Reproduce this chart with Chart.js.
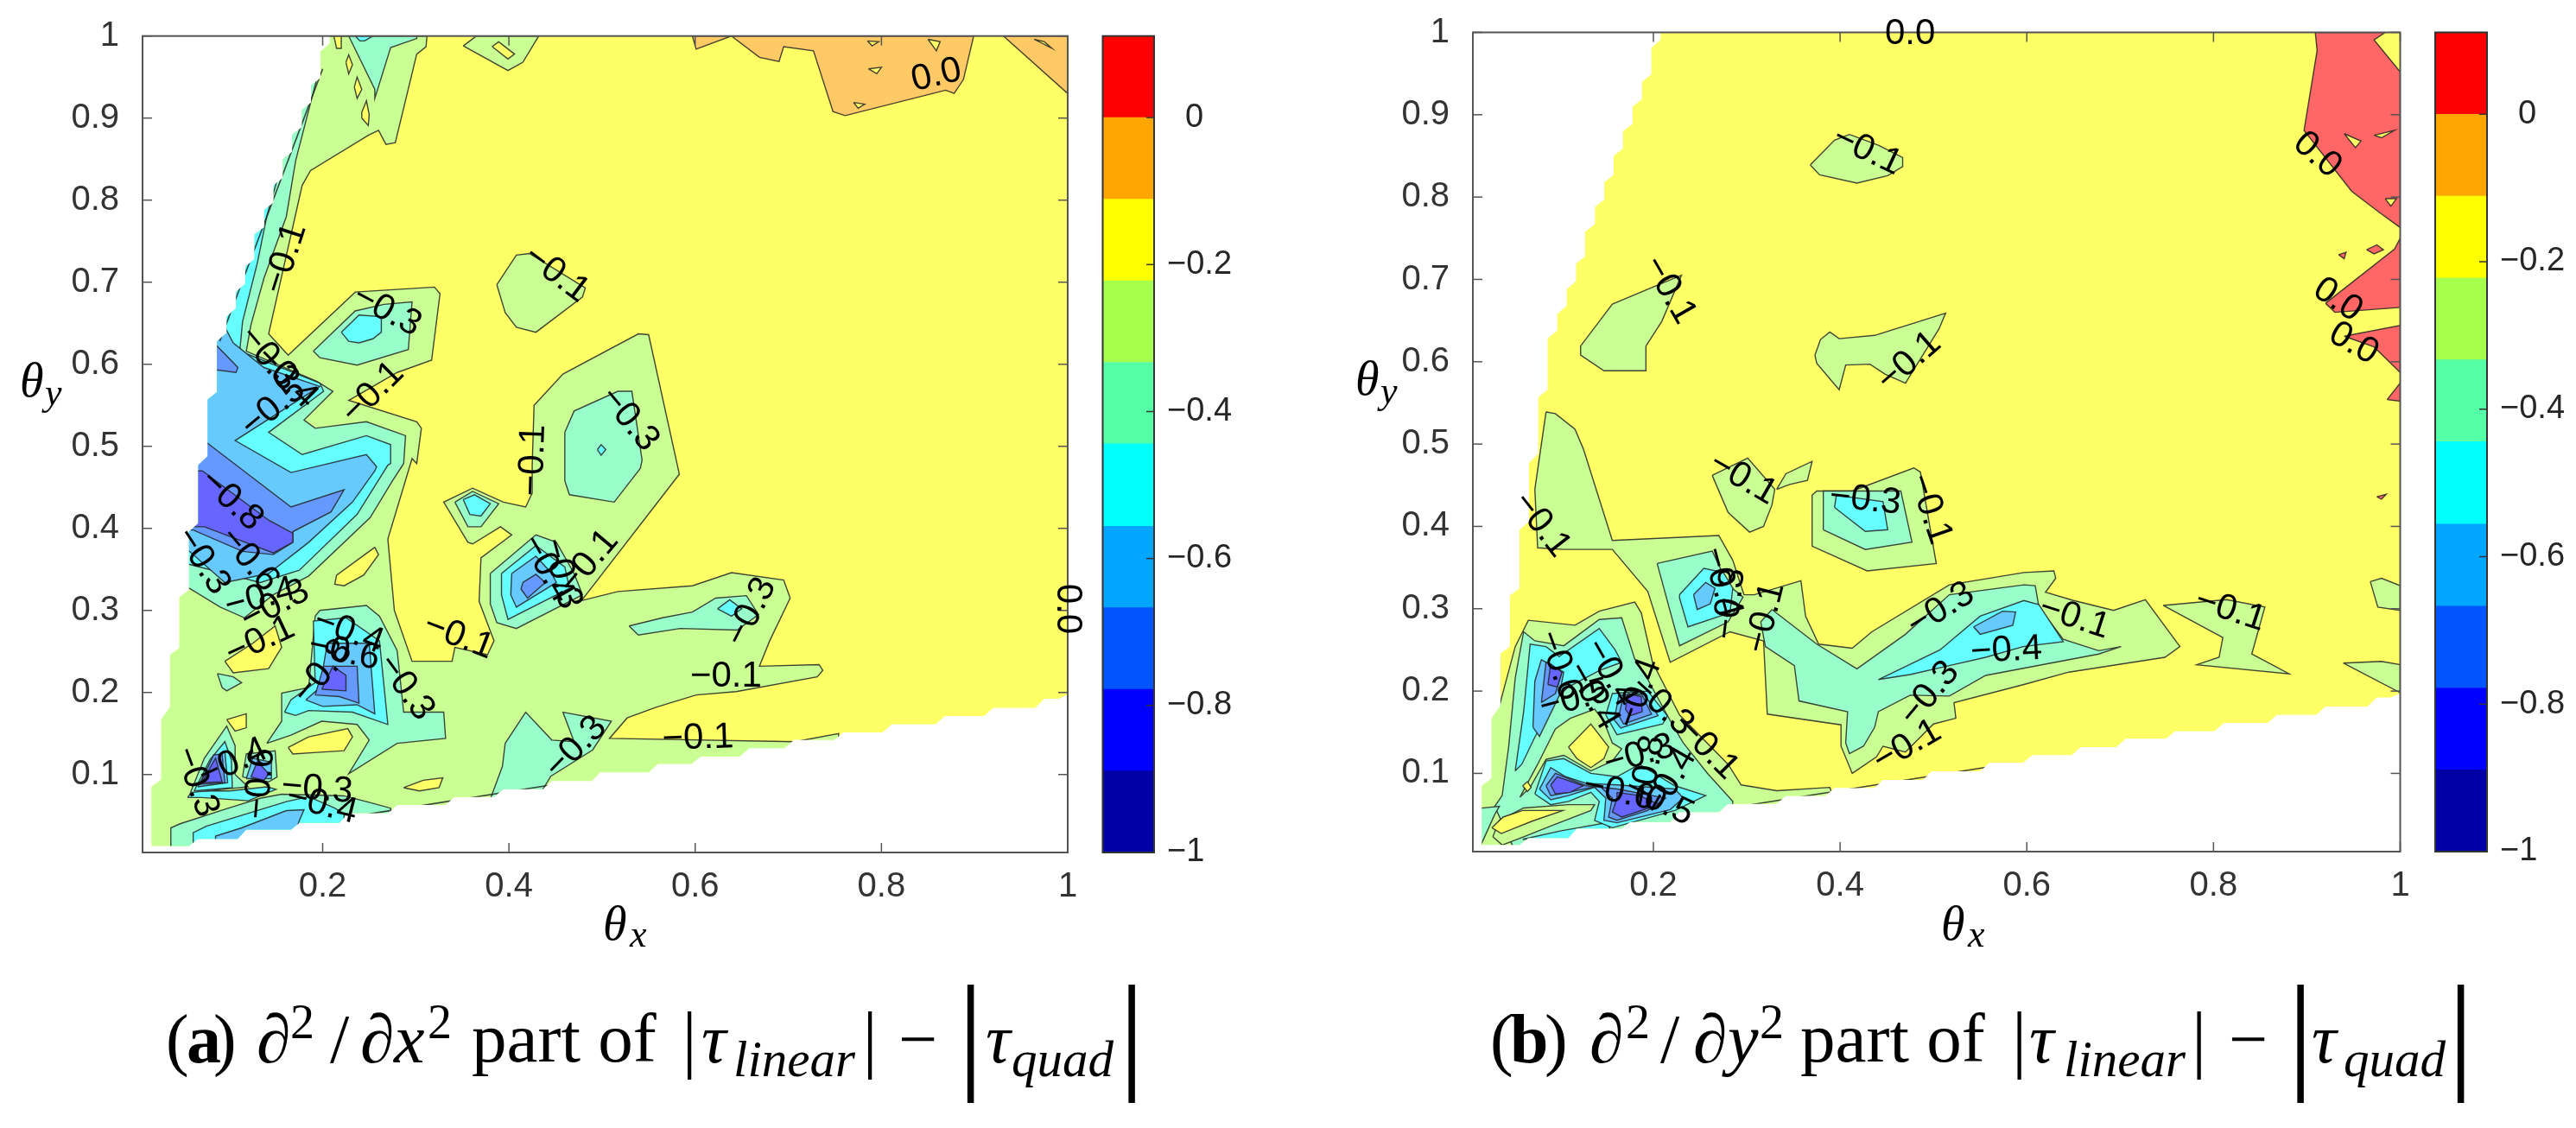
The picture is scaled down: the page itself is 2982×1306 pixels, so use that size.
<!DOCTYPE html>
<html>
<head>
<meta charset="utf-8">
<title>Contours</title>
<script src="https://cdn.jsdelivr.net/npm/chart.js@4"></script>
<style>
  html, body { margin: 0; background: #fff; }
  #page { position: relative; width: 2982px; height: 1306px; overflow: hidden; background: #fff; }
  canvas { position: absolute; }
  #page span { position: absolute; line-height: 1; white-space: pre; color: #000; font-family: "Liberation Serif", serif; }
</style>
</head>
<body>
<div id="page">
  <canvas id="chartA" width="1270" height="1090" style="left:0;top:0"></canvas>
  <canvas id="barA" width="170" height="1040" style="left:1270px;top:0"></canvas>
  <canvas id="chartB" width="1260" height="1090" style="left:1540px;top:0"></canvas>
  <canvas id="barB" width="170" height="1040" style="left:2812px;top:0"></canvas>
</div>
<script>
// ============= Axes =============
const xTicks = [0.2, 0.4, 0.6, 0.8, 1];
const yTicks = [0.1, 0.2, 0.3, 0.4, 0.5, 0.6, 0.7, 0.8, 0.9, 1];
const barTicks = [-1, -0.8, -0.6, -0.4, -0.2, 0];
const bandEdges = [-1, -0.889, -0.778, -0.667, -0.556, -0.444, -0.333, -0.222, -0.111, 0, 0.111];

// colours, lowest band first
const barColors = ["#0000a6", "#0000ff", "#0055ff", "#00a6ff", "#00ffff", "#55ffa6", "#a6ff4d", "#ffff00", "#ffa600", "#ff0000"];
const faceColors = ["#6666ca", "#6666ff", "#6699ff", "#66caff", "#66ffff", "#99ffca", "#caff94", "#ffff66", "#ffca66", "#ff6666"];
const NAVY = 0, DEEP = 1, BLUE = 2, SKY = 3, CYAN = 4, MINT = 5, GREEN = 6, YELLOW = 7, ORANGE = 8, RED = 9;

// ============= Domain (staircase edge of the sampled grid) =============
const domainX = [0.2076, 0.2076, 0.1976, 0.1976, 0.1876, 0.1876, 0.1777, 0.1777, 0.1672, 0.1672, 0.1572, 0.1572, 0.1473, 0.1473, 0.1373, 0.1373, 0.1268, 0.1268, 0.1169, 0.1169, 0.1069, 0.1069, 0.0969, 0.0969, 0.0865, 0.0865, 0.0765, 0.0765, 0.0665, 0.0665, 0.0565, 0.0565, 0.0461, 0.0461, 0.0361, 0.0361, 0.0266, 0.0266, 0.0162, 0.0162,
  0.0565, 0.066, 0.1088, 0.118, 0.166, 0.175, 0.218, 0.2276, 0.27, 0.28, 0.332, 0.3416, 0.384, 0.394, 0.4366, 0.446, 0.489, 0.498, 0.55, 0.56, 0.596, 0.606, 0.648, 0.658, 0.696, 0.706, 0.749, 0.759, 0.801, 0.811, 0.858, 0.868, 0.91, 0.92, 0.965, 0.975, 0.99, 1, 1];
const domainY = [1, 0.991, 0.981, 0.949, 0.94, 0.919, 0.91, 0.889, 0.88, 0.859, 0.85, 0.827, 0.818, 0.797, 0.788, 0.767, 0.758, 0.728, 0.719, 0.698, 0.688, 0.668, 0.658, 0.638, 0.628, 0.566, 0.557, 0.488, 0.477, 0.406, 0.396, 0.325, 0.316, 0.254, 0.246, 0.182, 0.167, 0.094, 0.085, 0.013,
  0.013, 0.0215, 0.0215, 0.033, 0.033, 0.041, 0.041, 0.053, 0.053, 0.063, 0.063, 0.0726, 0.0726, 0.082, 0.082, 0.092, 0.092, 0.1026, 0.1026, 0.1128, 0.1128, 0.122, 0.122, 0.132, 0.132, 0.142, 0.142, 0.151, 0.151, 0.161, 0.161, 0.171, 0.171, 0.181, 0.181, 0.192, 0.192, 0.197, 1];

// ============= Panel (a) contour regions =============
const aGreenMain = [[0.312,1],[0.311,0.987],[0.301,0.978],[0.278,0.87],[0.268,0.868],[0.26,0.885],[0.249,0.879],[0.187,0.836],[0.178,0.818],[0.142,0.637],[0.163,0.611],[0.235,0.688],[0.32,0.694],[0.326,0.686],[0.317,0.605],[0.28,0.59],[0.228,0.556],[0.301,0.53],[0.306,0.522],[0.301,0.479],[0.296,0.485],[0.27,0.387],[0.277,0.3],[0.296,0.238],[0.339,0.238],[0.342,0.255],[0.377,0.246],[0.384,0.263],[0.368,0.311],[0.37,0.364],[0.403,0.392],[0.391,0.402],[0.361,0.381],[0.356,0.383],[0.33,0.432],[0.361,0.449],[0.394,0.432],[0.418,0.426],[0.425,0.443],[0.425,0.477],[0.427,0.55],[0.458,0.588],[0.539,0.637],[0.55,0.636],[0.583,0.466],[0.478,0.312],[0.517,0.323],[0.597,0.33],[0.639,0.346],[0.695,0.337],[0.702,0.315],[0.68,0.263],[0.669,0.232],[0.733,0.234],[0.737,0.227],[0.731,0.219],[0.644,0.201],[0.601,0.197],[0.558,0.182],[0.527,0.169],[0.508,0.144],[0.707,0.14],[0.754,0.15],[0.754,0.1],[0,0],[0,1]];
const aGreenTop = [[0.351,0.988],[0.365,1],[0.432,1],[0.415,0.968],[0.399,0.958]];
const aGreenIsland = [[0.387,0.697],[0.408,0.733],[0.422,0.735],[0.482,0.693],[0.479,0.682],[0.429,0.639],[0.408,0.645],[0.396,0.663]];
const aYellowTop = [[0.382,0.987],[0.389,0.993],[0.406,0.978],[0.399,0.972]];
const aYellowSpeck1 = [[0.212,1],[0.22,1],[0.22,0.985],[0.215,0.985]];
const aYellowSpeck2 = [[0.225,0.968],[0.228,0.977],[0.232,0.965],[0.228,0.954]];
const aYellowSpeck3 = [[0.234,0.938],[0.237,0.95],[0.242,0.935],[0.237,0.924]];
const aYellowSpeck4 = [[0.242,0.907],[0.247,0.921],[0.25,0.904],[0.249,0.891],[0.242,0.9]];
const aYellow1 = [[0.256,0.377],[0.26,0.368],[0.244,0.343],[0.223,0.33],[0.213,0.332],[0.215,0.343]];
const aYellow2 = [[0.095,0.238],[0.125,0.26],[0.149,0.281],[0.156,0.255],[0.142,0.229],[0.104,0.224]];
const aYellow3 = [[0.097,0.167],[0.118,0.174],[0.118,0.157],[0.106,0.153]];
const aYellow4 = [[0.163,0.133],[0.185,0.146],[0.227,0.156],[0.232,0.146],[0.223,0.129],[0.194,0.127],[0.168,0.125]];
const aYellow5 = [[0.287,0.084],[0.308,0.093],[0.329,0.096],[0.325,0.084],[0.304,0.08]];
const aMintTop = [[0.228,1],[0.256,0.935],[0.256,0.924],[0.273,0.986],[0.301,0.997],[0.301,1]];
const aCyanTop = [[0.235,1],[0.254,1],[0.245,0.994],[0.24,0.994]];
const aOrange1 = [[0.639,1],[0.669,0.974],[0.69,0.969],[0.695,0.987],[0.727,0.982],[0.748,0.908],[0.761,0.903],[0.869,0.934],[0.878,0.93],[0.888,0.947],[0.899,1]];
const aOrange2 = [[0.597,1],[0.601,0.984],[0.639,1]];
const aOrange3 = [[0.931,1],[1,0.93],[1,1]];
const aHole1 = [[0.786,0.96],[0.8,0.962],[0.795,0.954]];
const aHole2 = [[0.85,0.996],[0.863,0.993],[0.859,0.982]];
const aHole3 = [[0.785,0.994],[0.797,0.993],[0.79,0.988]];
const aHole4 = [[0.77,0.919],[0.782,0.917],[0.775,0.912]];
const aHole5 = [[0.964,0.996],[0.983,0.985],[0.975,0.993]];
const aMintBig = [[0.194,0.949],[0.171,0.848],[0.161,0.78],[0.137,0.705],[0.123,0.648],[0.118,0.616],[0.194,0.579],[0.211,0.567],[0.18,0.532],[0.192,0.522],[0.247,0.53],[0.289,0.513],[0.287,0.479],[0.275,0.458],[0.251,0.413],[0.185,0.342],[0.147,0.319],[0.116,0.291],[0.09,0.304],[0.057,0.327],[0,0.327],[0,0.949]];
const aCyanBig = [[0.156,0.844],[0.14,0.78],[0.13,0.724],[0.114,0.652],[0.111,0.616],[0.197,0.577],[0.201,0.567],[0.142,0.517],[0.178,0.49],[0.247,0.513],[0.273,0.502],[0.273,0.479],[0.27,0.477],[0.237,0.417],[0.175,0.349],[0.133,0.334],[0.057,0.356],[0,0.356],[0,0.844]];
const aSkyBig = [[0.092,0.652],[0.104,0.626],[0.137,0.596],[0.197,0.573],[0.106,0.507],[0.166,0.468],[0.247,0.49],[0.258,0.475],[0.256,0.47],[0.232,0.432],[0.185,0.383],[0.142,0.345],[0.095,0.334],[0.057,0.372],[0,0.372],[0,0.652]];
const aBlueTip = [[0.08,0.63],[0.109,0.596],[0.107,0.59],[0.08,0.594]];
const aBlueBig = [[0.075,0.505],[0.166,0.426],[0.223,0.447],[0.209,0.42],[0.168,0.396],[0.168,0.383],[0.147,0.368],[0.114,0.372],[0.061,0.398],[0,0.398],[0,0.505]];
const aDeepBig = [[0.071,0.47],[0.142,0.41],[0.168,0.394],[0.168,0.383],[0.147,0.37],[0.073,0.402],[0,0.402],[0,0.47]];
const aMintLump = [[0.19,0.616],[0.235,0.665],[0.266,0.673],[0.296,0.676],[0.292,0.618],[0.237,0.599],[0.197,0.608]];
const aCyanLump = [[0.22,0.639],[0.239,0.66],[0.263,0.658],[0.263,0.639],[0.254,0.631],[0.239,0.626],[0.228,0.628]];
const aMintRight = [[0.46,0.517],[0.47,0.543],[0.517,0.567],[0.532,0.567],[0.543,0.483],[0.541,0.473],[0.513,0.432],[0.465,0.441],[0.46,0.458]];
const aCyanDiamond = [[0.495,0.496],[0.499,0.502],[0.504,0.496],[0.499,0.489]];
const aMintSmall = [[0.342,0.432],[0.361,0.445],[0.389,0.43],[0.37,0.402],[0.356,0.402]];
const aCyanSmall = [[0.351,0.435],[0.363,0.441],[0.38,0.43],[0.37,0.415],[0.358,0.417]];
const aMintPeak = [[0.38,0.345],[0.429,0.392],[0.451,0.383],[0.47,0.345],[0.479,0.319],[0.408,0.278],[0.387,0.285],[0.38,0.308]];
const aCyanPeak = [[0.392,0.345],[0.429,0.379],[0.46,0.353],[0.465,0.327],[0.399,0.289],[0.392,0.319]];
const aSkyPeak = [[0.403,0.345],[0.429,0.366],[0.446,0.345],[0.451,0.334],[0.408,0.304],[0.402,0.319]];
const aBluePeak = [[0.415,0.334],[0.429,0.344],[0.439,0.334],[0.42,0.315],[0.413,0.326]];
const aMintStreak = [[0.529,0.281],[0.565,0.291],[0.597,0.298],[0.622,0.315],[0.655,0.318],[0.668,0.295],[0.645,0.276],[0.584,0.278],[0.539,0.27]];
const aCyanStreak = [[0.624,0.302],[0.637,0.313],[0.65,0.302],[0.639,0.293]];
const aMintMid = [[0.14,0.138],[0.156,0.165],[0.156,0.199],[0.185,0.206],[0.192,0.293],[0.197,0.3],[0.247,0.306],[0.261,0.293],[0.28,0.251],[0.287,0.176],[0.33,0.176],[0.332,0.144],[0.28,0.138],[0.228,0.101],[0.25,0.142],[0.237,0.161],[0.199,0.165],[0.166,0.148]];
const aCyanMid = [[0.159,0.176],[0.166,0.191],[0.192,0.212],[0.19,0.287],[0.225,0.291],[0.261,0.263],[0.27,0.161],[0.232,0.176],[0.185,0.178],[0.171,0.172]];
const aSkyMid = [[0.182,0.191],[0.197,0.206],[0.205,0.26],[0.25,0.26],[0.256,0.174],[0.237,0.185],[0.2,0.183]];
const aBlueMid = [[0.192,0.197],[0.201,0.232],[0.237,0.232],[0.239,0.187],[0.218,0.195]];
const aDeepMid = [[0.199,0.204],[0.211,0.232],[0.225,0.221],[0.225,0.202]];
const aMintFleck = [[0.087,0.223],[0.104,0.219],[0.113,0.212],[0.097,0.202],[0.092,0.206]];
const aMintBottom = [[0.396,0.138],[0.418,0.176],[0.446,0.142],[0.47,0.14],[0.458,0.176],[0.51,0.165],[0.49,0.13],[0.445,0.098],[0.43,0.07],[0.38,0.07],[0.393,0.11]];
const aSpikeMint = [[0.058,0.078],[0.073,0.12],[0.097,0.159],[0.106,0.135],[0.106,0.1],[0.12,0.085]];
const aSpikeCyan = [[0.062,0.08],[0.079,0.118],[0.095,0.14],[0.102,0.118],[0.103,0.084]];
const aSpikeSky = [[0.066,0.085],[0.083,0.12],[0.095,0.128],[0.098,0.09]];
const aSpikeBlue = [[0.068,0.088],[0.083,0.124],[0.092,0.125],[0.095,0.09]];
const aSpikeDeep = [[0.07,0.09],[0.085,0.12],[0.09,0.1],[0.092,0.091]];
const aSpike2Mint = [[0.114,0.097],[0.118,0.125],[0.149,0.129],[0.151,0.097],[0.142,0.091]];
const aSpike2Sky = [[0.118,0.095],[0.125,0.12],[0.145,0.115],[0.145,0.095]];
const aSpike2Deep = [[0.123,0.097],[0.13,0.116],[0.142,0.101],[0.137,0.093]];
const aBottomMint = [[0.037,0],[0.037,0.035],[0.047,0.04],[0.099,0.059],[0.133,0.071],[0.156,0.076],[0.223,0.074],[0.247,0.067],[0.273,0.059],[0.273,0]];
const aBottomStrip = [[0.055,0.072],[0.06,0.08],[0.1,0.08],[0.14,0.085],[0.15,0.082],[0.12,0.068],[0.07,0.072]];
const aBottomCyan = [[0.061,0],[0.061,0.029],[0.075,0.037],[0.161,0.067],[0.185,0.073],[0.213,0.059],[0.223,0.052],[0.223,0]];
const aBottomSky = [[0.085,0],[0.085,0.025],[0.113,0.035],[0.161,0.056],[0.18,0.057],[0.175,0.044],[0.161,0]];
// contour runs that graze the staircase, so only pieces of them show
const aEdgeLeft = [[0.2,0.96],[0.0895,0.628]];
const aEdgeBottom = [[0.25,0.052],[0.45,0.0882]];

const regionsA = [
  [GREEN, aGreenMain], [GREEN, aGreenTop], [GREEN, aGreenIsland], [YELLOW, aYellowTop], [YELLOW, aYellowSpeck1], [YELLOW, aYellowSpeck2], [YELLOW, aYellowSpeck3], [YELLOW, aYellowSpeck4],
  [YELLOW, aYellow1], [YELLOW, aYellow2], [YELLOW, aYellow3], [YELLOW, aYellow4], [YELLOW, aYellow5],
  [MINT, aMintTop], [CYAN, aCyanTop], [ORANGE, aOrange1], [ORANGE, aOrange2], [ORANGE, aOrange3],
  [YELLOW, aHole1], [YELLOW, aHole2], [YELLOW, aHole3], [YELLOW, aHole4], [YELLOW, aHole5],
  [MINT, aMintBig], [CYAN, aCyanBig], [SKY, aSkyBig], [BLUE, aBlueTip], [BLUE, aBlueBig], [DEEP, aDeepBig],
  [MINT, aMintLump], [CYAN, aCyanLump], [MINT, aMintRight], [CYAN, aCyanDiamond], [MINT, aMintSmall], [CYAN, aCyanSmall],
  [MINT, aMintPeak], [CYAN, aCyanPeak], [SKY, aSkyPeak], [BLUE, aBluePeak], [MINT, aMintStreak], [CYAN, aCyanStreak],
  [MINT, aMintMid], [CYAN, aCyanMid], [SKY, aSkyMid], [BLUE, aBlueMid], [DEEP, aDeepMid], [MINT, aMintFleck], [MINT, aMintBottom],
  [MINT, aBottomMint], [CYAN, aBottomStrip], [CYAN, aBottomCyan], [SKY, aBottomSky],
  [MINT, aSpikeMint], [CYAN, aSpikeCyan], [SKY, aSpikeSky], [BLUE, aSpikeBlue], [DEEP, aSpikeDeep],
  [MINT, aSpike2Mint], [SKY, aSpike2Sky], [DEEP, aSpike2Deep],
];
const edgesA = [aEdgeLeft, aEdgeBottom];

// x, y, text, angle in degrees
const labelsA = [
  [0.16, 0.729, "−0.1", -72], [0.451, 0.71, "−0.1", 37], [0.269, 0.665, "−0.3", 28], [0.254, 0.565, "−0.1", -45],
  [0.529, 0.533, "−0.3", 50], [0.426, 0.483, "−0.1", -88], [0.142, 0.607, "−0.3", 50], [0.161, 0.584, "−0.4", 45],
  [0.147, 0.547, "−0.5", -40], [0.102, 0.434, "−0.8", 43], [0.071, 0.36, "−0.3", 57], [0.121, 0.362, "−0.6", 50],
  [0.133, 0.315, "−0.4", -15], [0.149, 0.306, "−0.3", -28], [0.133, 0.263, "−0.1", -25], [0.346, 0.268, "−0.1", 21],
  [0.486, 0.359, "−0.1", -50], [0.441, 0.351, "−0.4", 60], [0.456, 0.345, "−0.3", 75], [0.472, 0.133, "−0.3", -46],
  [0.633, 0.219, "−0.1", 0], [0.603, 0.144, "−0.1", -2], [0.66, 0.298, "−0.3", -63], [0.859, 0.952, "0.0", -13],
  [1, 0.302, "0.0", 90], [0.064, 0.091, "−0.3", 70], [0.104, 0.114, "−0.4", -25], [0.133, 0.089, "−0.6", -85],
  [0.194, 0.082, "−0.3", 5], [0.199, 0.063, "−0.4", 14], [0.228, 0.274, "−0.4", 20], [0.223, 0.249, "−0.6", 12],
  [0.2, 0.225, "−0.8", -50], [0.289, 0.206, "−0.3", 54],
];

// ============= Panel (b) contour regions =============
const bGreen1 = [[0.368,0.839],[0.394,0.869],[0.41,0.876],[0.441,0.863],[0.467,0.848],[0.467,0.837],[0.451,0.826],[0.418,0.817],[0.378,0.827]];
const bGreen2 = [[0.156,0.67],[0.194,0.688],[0.23,0.705],[0.209,0.649],[0.192,0.619],[0.192,0.589],[0.147,0.589],[0.122,0.608],[0.122,0.619]];
const bGreen3 = [[0.373,0.608],[0.379,0.627],[0.389,0.636],[0.399,0.628],[0.437,0.632],[0.513,0.659],[0.506,0.64],[0.47,0.574],[0.448,0.585],[0.432,0.597],[0.406,0.596],[0.399,0.566],[0.375,0.598]];
const bGreenBand = [[0.085,0.539],[0.095,0.537],[0.116,0.518],[0.125,0.494],[0.156,0.383],[0.27,0.389],[0.285,0.359],[0.297,0.317],[0.308,0.317],[0.358,0.334],[0.363,0.291],[0.377,0.257],[0.413,0.252],[0.434,0.272],[0.517,0.329],[0.597,0.344],[0.629,0.346],[0.631,0.337],[0.62,0.32],[0.65,0.31],[0.693,0.298],[0.727,0.311],[0.764,0.254],[0.748,0.241],[0.645,0.223],[0.597,0.208],[0.522,0.186],[0.524,0.167],[0.5,0.16],[0.47,0.126],[0.446,0.133],[0.439,0.12],[0.413,0.1],[0.401,0.133],[0.401,0.159],[0.322,0.172],[0.318,0.261],[0.282,0.272],[0.218,0.235],[0.194,0.321],[0.156,0.372],[0.104,0.372],[0.076,0.374],[0.073,0.445]];
const bGreenLeft = [[0,0.18],[0.035,0.182],[0.052,0.254],[0.066,0.286],[0.116,0.28],[0.142,0.297],[0.18,0.308],[0.187,0.295],[0.199,0.235],[0.228,0.171],[0.28,0.111],[0.294,0.086],[0.332,0.079],[0.389,0.083],[0.4,0.05],[0,0]];
const bGreenRim = [[0.41,0.08],[0.44,0.091],[0.49,0.1],[0.55,0.113],[0.55,0.1],[0.41,0.07]];
const bMintBig = [[0.038,0.073],[0.045,0.133],[0.052,0.216],[0.061,0.272],[0.073,0.261],[0.104,0.255],[0.142,0.287],[0.166,0.289],[0.18,0.239],[0.194,0.214],[0.22,0.16],[0.232,0.137],[0.258,0.1],[0.285,0.066],[0.285,0.04],[0.1,0],[0.05,0.01],[0.03,0.06]];
const bMintCorner = [[0,0.056],[0.035,0.06],[0.03,0.05],[0.016,0.015],[0,0]];
const bGreenHole = [[0.057,0.071],[0.076,0.111],[0.095,0.154],[0.111,0.167],[0.137,0.178],[0.147,0.163],[0.156,0.137],[0.166,0.13],[0.156,0.115],[0.133,0.103],[0.104,0.122],[0.085,0.117],[0.068,0.083]];
const bGreenStreak = [[0.028,0.023],[0.035,0.043],[0.061,0.058],[0.109,0.062],[0.137,0.062],[0.133,0.055],[0.09,0.036],[0.061,0.023],[0.038,0.013]];
const bYellowHole = [[0.109,0.132],[0.133,0.16],[0.152,0.132],[0.147,0.118],[0.133,0.107],[0.118,0.118]];
const bYellowStreak = [[0.027,0.034],[0.039,0.047],[0.06,0.055],[0.103,0.055],[0.07,0.042],[0.037,0.027]];
const bYellowSpeck = [[0.06,0.085],[0.065,0.09],[0.069,0.083],[0.065,0.078]];
const bCyanLeg = [[0.052,0.103],[0.061,0.175],[0.068,0.257],[0.085,0.254],[0.099,0.242],[0.142,0.276],[0.159,0.25],[0.166,0.235],[0.142,0.225],[0.109,0.205],[0.095,0.19],[0.073,0.144],[0.059,0.111]];
const bSkyLeg = [[0.071,0.156],[0.073,0.212],[0.08,0.238],[0.104,0.223],[0.099,0.194],[0.078,0.145]];
const bBlueLeg = [[0.08,0.186],[0.085,0.235],[0.102,0.223],[0.095,0.197]];
const bDeepLeg = [[0.087,0.208],[0.09,0.233],[0.102,0.223],[0.097,0.205]];
const bCyanPeak = [[0.149,0.171],[0.156,0.197],[0.194,0.2],[0.215,0.17],[0.21,0.16],[0.161,0.147]];
const bSkyPeak = [[0.158,0.165],[0.163,0.195],[0.19,0.197],[0.205,0.17],[0.165,0.155]];
const bBluePeak = [[0.163,0.17],[0.168,0.195],[0.188,0.195],[0.198,0.172],[0.168,0.16]];
const bDeepPeak = [[0.17,0.178],[0.173,0.197],[0.187,0.193],[0.188,0.175],[0.175,0.17]];
const bCyanBlob = [[0.073,0.075],[0.085,0.115],[0.104,0.118],[0.133,0.1],[0.161,0.096],[0.185,0.111],[0.223,0.085],[0.256,0.073],[0.223,0.055],[0.156,0.034],[0.137,0.043],[0.142,0.066],[0.133,0.077],[0.109,0.066],[0.09,0.062]];
const bCyanFoot = [[0.06,0.02],[0.1,0.03],[0.15,0.04],[0.16,0.02]];
const bSkyBlob = [[0.078,0.081],[0.09,0.107],[0.106,0.096],[0.128,0.088],[0.161,0.086],[0.223,0.081],[0.232,0.07],[0.218,0.056],[0.161,0.04],[0.147,0.043],[0.149,0.07],[0.137,0.083],[0.109,0.073],[0.09,0.068]];
const bBlueBlob = [[0.085,0.085],[0.095,0.1],[0.128,0.085],[0.161,0.081],[0.213,0.07],[0.194,0.055],[0.161,0.043],[0.152,0.047],[0.156,0.07],[0.142,0.085],[0.109,0.077],[0.09,0.073]];
const bDeepBlob1 = [[0.09,0.086],[0.097,0.096],[0.125,0.085],[0.111,0.077],[0.095,0.075]];
const bDeepBlob2 = [[0.161,0.077],[0.185,0.073],[0.206,0.062],[0.166,0.047],[0.156,0.053],[0.161,0.07]];
const bMintLump = [[0.204,0.355],[0.263,0.37],[0.28,0.329],[0.296,0.314],[0.28,0.284],[0.228,0.255]];
const bCyanLump = [[0.228,0.317],[0.254,0.349],[0.275,0.344],[0.285,0.325],[0.282,0.295],[0.237,0.278],[0.228,0.313]];
const bSkyLump = [[0.243,0.317],[0.256,0.332],[0.266,0.325],[0.261,0.306],[0.247,0.299]];
const bGreen6 = [[0.37,0.378],[0.37,0.438],[0.375,0.443],[0.413,0.443],[0.479,0.471],[0.486,0.466],[0.503,0.355],[0.429,0.346],[0.37,0.376]];
const bMint6 = [[0.382,0.396],[0.382,0.443],[0.465,0.443],[0.477,0.381],[0.427,0.372]];
const bCyan6 = [[0.394,0.423],[0.396,0.438],[0.446,0.43],[0.451,0.396],[0.427,0.394]];
const bGreen7 = [[0.263,0.462],[0.301,0.483],[0.33,0.445],[0.327,0.426],[0.318,0.4],[0.303,0.393],[0.28,0.417]];
const bGreen8 = [[0.332,0.445],[0.342,0.464],[0.37,0.479],[0.365,0.456],[0.346,0.451]];
const bMintRight = [[0.327,0.299],[0.375,0.257],[0.418,0.227],[0.47,0.269],[0.517,0.317],[0.597,0.329],[0.609,0.328],[0.613,0.302],[0.639,0.263],[0.677,0.249],[0.701,0.254],[0.677,0.245],[0.556,0.219],[0.517,0.194],[0.475,0.195],[0.441,0.175],[0.437,0.156],[0.425,0.133],[0.41,0.124],[0.406,0.137],[0.408,0.175],[0.356,0.188],[0.351,0.231],[0.32,0.254],[0.315,0.284]];
const bCyanRight = [[0.441,0.214],[0.507,0.25],[0.55,0.291],[0.597,0.31],[0.613,0.305],[0.639,0.26],[0.596,0.254],[0.556,0.241],[0.517,0.231],[0.475,0.22]];
const bSkyRight = [[0.543,0.278],[0.574,0.297],[0.588,0.296],[0.585,0.28],[0.55,0.269]];
const bGreen9 = [[0.746,0.304],[0.814,0.311],[0.855,0.302],[0.841,0.245],[0.881,0.221],[0.782,0.232],[0.806,0.241],[0.81,0.265]];
const bGreen10 = [[0.968,0.333],[0.98,0.337],[1,0.328],[1,0.298],[0.976,0.302]];
const bGreen11 = [[0.939,0.234],[1,0.198],[1,0.232],[0.98,0.236]];
const bRed1 = [[0.909,1],[0.911,0.978],[0.897,0.881],[0.948,0.807],[0.978,0.781],[1,0.763],[1,0.952],[0.972,0.991],[0.984,1]];
const bRed2 = [[0.92,0.671],[0.994,0.737],[1,0.75],[1,0.666],[0.93,0.66]];
const bRed3 = [[0.94,0.631],[1,0.644],[1,0.587],[0.972,0.618]];
const bRed4 = [[0.986,0.554],[1,0.574],[1,0.552]];
const bRed5 = [[0.934,0.73],[0.942,0.733],[0.94,0.725]];
const bRed6 = [[0.964,0.736],[0.975,0.742],[0.982,0.736],[0.972,0.731]];
const bRed7 = [[0.975,0.436],[0.985,0.439],[0.98,0.433]];
const bHole1 = [[0.94,0.877],[0.958,0.868],[0.952,0.86]];
const bHole2 = [[0.972,0.875],[0.994,0.881],[0.98,0.872]];
const bHole3 = [[0.984,0.798],[0.996,0.798],[0.99,0.789]];
const bEdgeBottom = [[0.3,0.0612],[0.56,0.108]];

const regionsB = [
  [GREEN, bGreen1], [GREEN, bGreen2], [GREEN, bGreen3], [GREEN, bGreenBand], [GREEN, bGreenLeft],
  [MINT, bMintBig], [MINT, bMintCorner], [GREEN, bGreenHole], [GREEN, bGreenStreak], [YELLOW, bYellowHole], [YELLOW, bYellowStreak], [YELLOW, bYellowSpeck],
  [CYAN, bCyanLeg], [SKY, bSkyLeg], [BLUE, bBlueLeg], [DEEP, bDeepLeg],
  [CYAN, bCyanPeak], [SKY, bSkyPeak], [BLUE, bBluePeak], [DEEP, bDeepPeak],
  [CYAN, bCyanFoot], [CYAN, bCyanBlob], [SKY, bSkyBlob], [BLUE, bBlueBlob], [DEEP, bDeepBlob1], [DEEP, bDeepBlob2],
  [MINT, bMintLump], [CYAN, bCyanLump], [SKY, bSkyLump],
  [GREEN, bGreen6], [MINT, bMint6], [CYAN, bCyan6], [GREEN, bGreen7], [GREEN, bGreen8],
  [MINT, bMintRight], [CYAN, bCyanRight], [SKY, bSkyRight],
  [GREEN, bGreen9], [GREEN, bGreen10], [GREEN, bGreen11],
  [RED, bRed1], [RED, bRed2], [RED, bRed3], [RED, bRed4], [RED, bRed5], [RED, bRed6], [RED, bRed7],
  [YELLOW, bHole1], [YELLOW, bHole2], [YELLOW, bHole3],
];
const edgesB = [bEdgeBottom];

const labelsB = [
  [0.475, 0.998, "0.0", 0], [0.429, 0.856, "−0.1", 25], [0.217, 0.687, "−0.1", 60], [0.474, 0.6, "−0.1", -41],
  [0.296, 0.458, "−0.1", 30], [0.08, 0.402, "−0.1", 52], [0.427, 0.432, "−0.3", 6], [0.496, 0.421, "−0.1", 71],
  [0.32, 0.289, "−0.1", -76], [0.282, 0.306, "−0.3", -83], [0.273, 0.332, "−0.4", 75], [0.508, 0.299, "−0.3", -32],
  [0.578, 0.249, "−0.4", -3], [0.496, 0.197, "−0.3", -50], [0.472, 0.133, "−0.1", -30], [0.154, 0.222, "−0.4", 60],
  [0.099, 0.231, "−0.6", 70], [0.116, 0.19, "−0.5", -15], [0.135, 0.194, "−0.4", 60], [0.185, 0.197, "−0.4", -70],
  [0.209, 0.182, "−0.3", 42], [0.258, 0.13, "−0.1", 45], [0.185, 0.122, "−0.3", -16], [0.194, 0.103, "−0.8", -80],
  [0.218, 0.09, "−0.4", -60], [0.163, 0.077, "−0.6", 12], [0.206, 0.066, "−0.5", 25], [0.911, 0.851, "0.0", 41],
  [0.933, 0.675, "0.0", 34], [0.95, 0.622, "0.0", 30], [0.651, 0.289, "−0.1", 18], [0.818, 0.298, "−0.1", 18],
];

// ============= Captions =============
// text, x, baseline, size, style
const captionA = [
  ["(", 192, 1230, 80, ""], ["a", 216, 1230, 80, "bold"], [")", 247, 1230, 80, ""], ["∂", 297, 1230, 80, ""], ["2", 336, 1202, 56, ""],
  ["/", 382, 1230, 80, ""], ["∂", 417, 1230, 80, ""], ["x", 456, 1230, 80, "italic"], ["2", 495, 1202, 56, ""], ["part of", 546, 1230, 81, ""],
  ["τ", 812, 1230, 80, "italic"], ["linear", 849, 1246, 59, "italic"], ["−", 1040, 1230, 80, ""], ["τ", 1141, 1230, 80, "italic"], ["quad", 1171, 1246, 59, "italic"],
];
const captionB = [
  ["(", 1725, 1230, 80, ""], ["b", 1748, 1230, 80, "bold"], [")", 1788, 1230, 80, ""], ["∂", 1840, 1230, 80, ""], ["2", 1882, 1202, 56, ""],
  ["/", 1922, 1230, 80, ""], ["∂", 1960, 1230, 80, ""], ["y", 2000, 1230, 80, "italic"], ["2", 2037, 1202, 56, ""], ["part of", 2084, 1230, 81, ""],
  ["τ", 2349, 1230, 80, "italic"], ["linear", 2389, 1246, 59, "italic"], ["−", 2580, 1230, 80, ""], ["τ", 2676, 1230, 80, "italic"], ["quad", 2713, 1246, 59, "italic"],
];
// x, baseline, size
const pipes = [
  [798, 1231, 86], [1007, 1231, 86], [1123.6, 1245, 151], [1310, 1245, 151],
  [2337.5, 1231, 86], [2545.5, 1231, 86], [2663, 1245, 151], [2848.5, 1245, 151],
];
const axisLabels = [
  ["θ", 698, 1088, 56, "italic"], ["x", 729, 1097, 44, "italic"], ["θ", 23, 459, 56, "italic"], ["y", 52, 470, 44, "italic"],
  ["θ", 2247, 1088, 56, "italic"], ["x", 2278, 1097, 44, "italic"], ["θ", 1569, 457, 56, "italic"], ["y", 1598, 468, 44, "italic"],
];

const page = document.getElementById("page");
function putText([text, x, baseline, size, style]) {
  const s = document.createElement("span");
  s.textContent = text;
  s.style.left = x + "px";
  s.style.top = baseline - 0.8375 * size + "px";
  s.style.fontSize = size + "px";
  if (style === "bold") s.style.fontWeight = "bold";
  if (style === "italic") s.style.fontStyle = "italic";
  page.appendChild(s);
}
[...captionA, ...captionB, ...axisLabels].forEach(putText);
pipes.forEach(([x, baseline, size]) => putText(["|", x - 0.1 * size, baseline, size, ""]));

// ============= Chart helpers =============
const FRAME = "#555";
const LINE = "rgba(35,35,35,0.85)";
const tickFont = { family: "'Liberation Sans'", size: 40 };

function listTicks(values) {
  return (scale) => { scale.ticks = values.map((value) => ({ value })); };
}
function fixedSize(prop, size) {
  return (scale) => {
    scale[prop] = size;
    scale.paddingLeft = scale.paddingRight = scale.paddingTop = scale.paddingBottom = 0;
  };
}
function tickLine(ctx, x1, y1, x2, y2) {
  ctx.beginPath();
  ctx.moveTo(x1, y1);
  ctx.lineTo(x2, y2);
  ctx.stroke();
}

// MATLAB style frame with the ticks pointing inwards, clip to the domain, rotated labels
function contourPlugin(labels) {
  return {
    id: "contourPlugin",
    beforeDatasetsDraw(chart) {
      const { ctx, scales: { x, y } } = chart;
      ctx.save();
      ctx.beginPath();
      domainX.forEach((v, i) => ctx.lineTo(x.getPixelForValue(v), y.getPixelForValue(domainY[i])));
      ctx.closePath();
      ctx.clip();
    },
    afterDatasetsDraw(chart) {
      const { ctx, chartArea: a, scales: { x, y } } = chart;
      ctx.restore();
      ctx.save();
      ctx.strokeStyle = FRAME;
      ctx.lineWidth = 1.5;
      xTicks.forEach((v) => {
        const px = x.getPixelForValue(v);
        tickLine(ctx, px, a.bottom, px, a.bottom - 11);
        tickLine(ctx, px, a.top, px, a.top + 11);
      });
      yTicks.forEach((v) => {
        const py = y.getPixelForValue(v);
        tickLine(ctx, a.left, py, a.left + 11, py);
        tickLine(ctx, a.right, py, a.right - 11, py);
      });
      ctx.lineWidth = 2;
      ctx.strokeRect(a.left, a.top, a.right - a.left, a.bottom - a.top);
      ctx.fillStyle = "#000";
      ctx.font = "42px 'Liberation Sans'";
      ctx.textAlign = "center";
      ctx.textBaseline = "middle";
      labels.forEach(([lx, ly, text, angle]) => {
        ctx.save();
        ctx.translate(x.getPixelForValue(lx), y.getPixelForValue(ly));
        ctx.rotate((angle * Math.PI) / 180);
        ctx.fillText(text, 0, 0);
        ctx.restore();
      });
      ctx.restore();
    },
  };
}

const barFrame = {
  id: "barFrame",
  afterDatasetsDraw(chart) {
    const { ctx, chartArea: a, scales: { y } } = chart;
    ctx.save();
    ctx.strokeStyle = "#333";
    ctx.lineWidth = 1.5;
    barTicks.forEach((v) => {
      const py = y.getPixelForValue(v);
      tickLine(ctx, a.right, py, a.right - 9, py);
    });
    ctx.lineWidth = 2;
    ctx.strokeRect(a.left, a.top, a.right - a.left, a.bottom - a.top);
    ctx.restore();
  },
};

function polygonDataset(band, poly, line) {
  const closed = [...poly, poly[0]];
  return {
    data: closed.map(([x, y]) => ({ x, y })),
    showLine: true,
    fill: "shape",
    pointRadius: 0,
    tension: 0,
    backgroundColor: faceColors[band],
    borderColor: line ? LINE : "rgba(0,0,0,0)",
    borderWidth: line ? 1.4 : 0,
  };
}

function edgeDataset(points) {
  return {
    data: points.map(([x, y]) => ({ x, y })),
    showLine: true,
    fill: false,
    pointRadius: 0,
    borderColor: LINE,
    borderWidth: 1.6,
  };
}

function drawContour(id, regions, edges, labels, area) {
  const domain = domainX.map((x, i) => [x, domainY[i]]);
  const datasets = [
    polygonDataset(YELLOW, domain, false),
    ...regions.map(([band, poly]) => polygonDataset(band, poly, true)),
    ...edges.map(edgeDataset),
  ];
  new Chart(document.getElementById(id), {
    type: "scatter",
    // datasets paint from the last one to the first one
    data: { datasets: datasets.reverse() },
    plugins: [contourPlugin(labels)],
    options: {
      responsive: false,
      animation: false,
      devicePixelRatio: 1,
      layout: { padding: { top: area.top, right: area.right } },
      plugins: { legend: { display: false }, tooltip: { enabled: false } },
      scales: {
        x: {
          type: "linear", min: 0.0066, max: 1,
          afterBuildTicks: listTicks(xTicks),
          afterFit: fixedSize("height", area.bottom),
          grid: { display: false }, border: { display: false },
          ticks: { font: tickFont, color: "#333", padding: 8, maxRotation: 0, autoSkip: false, callback: (v) => String(v) },
        },
        y: {
          type: "linear", min: 0.005, max: 1,
          afterBuildTicks: listTicks(yTicks),
          afterFit: fixedSize("width", 165),
          grid: { display: false }, border: { display: false },
          ticks: { font: tickFont, color: "#333", padding: 19, autoSkip: false, callback: (v) => String(v) },
        },
      },
    },
  });
}

function drawColorbar(id, area) {
  new Chart(document.getElementById(id), {
    type: "bar",
    data: {
      labels: [""],
      datasets: barColors.map((color, i) => ({
        data: [[bandEdges[i], bandEdges[i + 1]]],
        backgroundColor: color,
        barPercentage: 1,
        categoryPercentage: 1,
        grouped: false,
      })),
    },
    plugins: [barFrame],
    options: {
      responsive: false,
      animation: false,
      devicePixelRatio: 1,
      layout: { padding: { top: area.top, left: area.left, bottom: area.bottom } },
      plugins: { legend: { display: false }, tooltip: { enabled: false } },
      scales: {
        x: { display: false },
        y: {
          position: "right", min: -1, max: 0.111,
          afterBuildTicks: listTicks(barTicks),
          afterFit: fixedSize("width", area.axis),
          grid: { display: false }, border: { display: false },
          ticks: {
            font: { family: "'Liberation Sans'", size: 38 }, color: "#262626", padding: 7, autoSkip: false,
            callback: (v) => (v === 0 ? "  0" : String(v).replace("-", "−")),
          },
        },
      },
    },
  });
}

// ============= Inicializar =============
drawContour("chartA", regionsA, edgesA, labelsA, { top: 41.7, right: 34, bottom: 103 });
drawContour("chartB", regionsB, edgesB, labelsB, { top: 37.5, right: 21.5, bottom: 104 });
drawColorbar("barA", { top: 41.7, left: 6.5, bottom: 53, axis: 104 });
drawColorbar("barB", { top: 37.5, left: 7, bottom: 54, axis: 103 });
</script>
</body>
</html>
